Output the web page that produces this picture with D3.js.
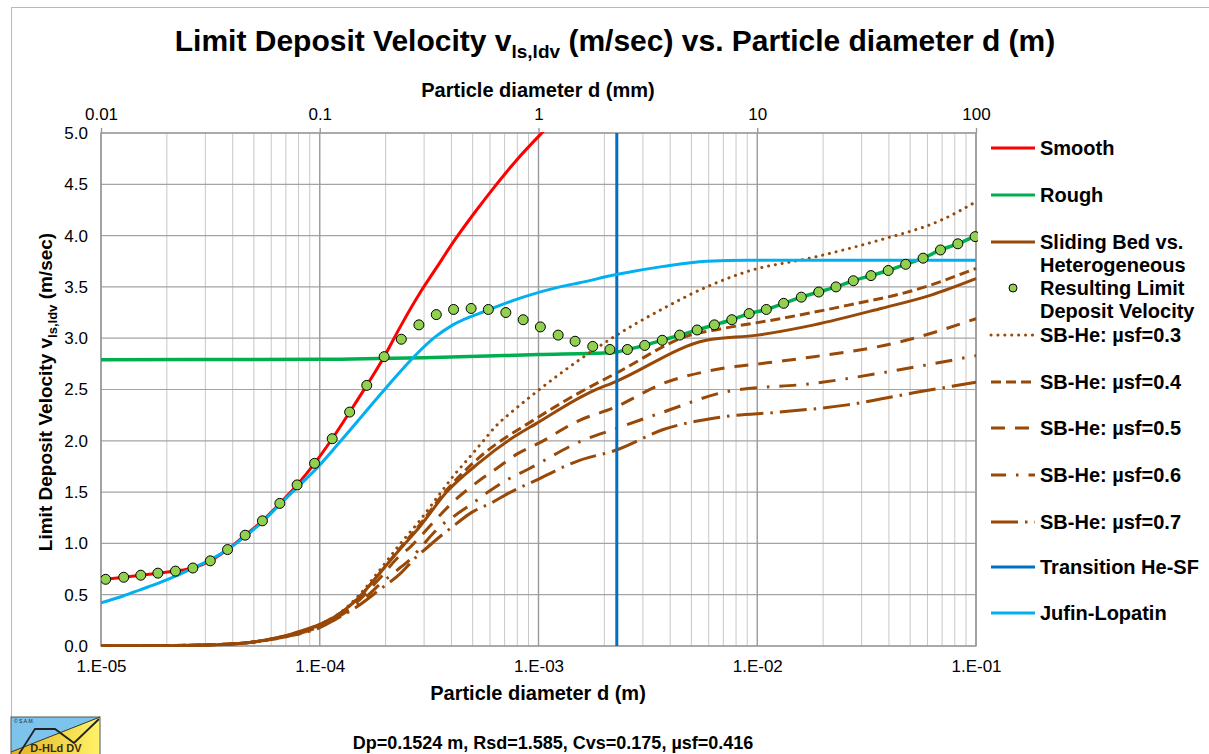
<!DOCTYPE html>
<html><head><meta charset="utf-8">
<script src="https://cdn.jsdelivr.net/npm/d3@7"></script>
<style>
html,body{margin:0;padding:0;background:#fff;}
svg{display:block;font-family:"Liberation Sans",Arial,sans-serif;}
</style></head>
<body><svg id="c" width="1209" height="754"></svg>
<script>
// ---------- DATA ----------
const xTickValues = [1e-5, 1e-4, 1e-3, 1e-2, 1e-1];
const xTickLabels = ["1.E-05", "1.E-04", "1.E-03", "1.E-02", "1.E-01"];
const xTopTickValues = [0.01, 0.1, 1, 10, 100];
const xTopTickLabels = ["0.01", "0.1", "1", "10", "100"];
const yTickValues = [0, 0.5, 1, 1.5, 2, 2.5, 3, 3.5, 4, 4.5, 5];

// Resulting Limit Deposit Velocity (markers)
const dotD = [1.05e-5,1.27e-5,1.52e-5,1.82e-5,2.19e-5,2.63e-5,3.16e-5,3.79e-5,4.56e-5,5.47e-5,6.57e-5,7.88e-5,9.47e-5,
  1.14e-4,1.37e-4,1.64e-4,1.97e-4,2.36e-4,2.84e-4,3.41e-4,4.09e-4,4.92e-4,5.90e-4,7.09e-4,8.51e-4,
  1.02e-3,1.23e-3,1.47e-3,1.77e-3,2.12e-3,2.55e-3,3.06e-3,3.68e-3,4.42e-3,5.31e-3,6.37e-3,7.65e-3,9.18e-3,
  1.10e-2,1.32e-2,1.59e-2,1.91e-2,2.29e-2,2.75e-2,3.31e-2,3.97e-2,4.77e-2,5.73e-2,6.88e-2,8.26e-2,9.91e-2];
const dotV = [0.65,0.67,0.69,0.71,0.73,0.76,0.83,0.94,1.08,1.22,1.39,1.57,1.78,
  2.02,2.28,2.54,2.82,2.99,3.13,3.23,3.28,3.29,3.28,3.25,3.18,
  3.11,3.03,2.97,2.92,2.89,2.89,2.93,2.98,3.03,3.08,3.13,3.18,3.24,
  3.28,3.34,3.40,3.45,3.50,3.56,3.61,3.66,3.72,3.78,3.86,3.92,3.99];

// Smooth
const smoothD = [1e-5,1.27e-5,1.52e-5,1.82e-5,2.19e-5,2.63e-5,3.16e-5,3.79e-5,4.56e-5,5.47e-5,6.57e-5,7.88e-5,9.47e-5,
  1.14e-4,1.37e-4,1.64e-4,1.97e-4,2.36e-4,2.87e-4,3.4e-4,4.15e-4,5.13e-4,6.32e-4,7.97e-4,1.035e-3,1.2e-3];
const smoothV = [0.645,0.67,0.69,0.71,0.73,0.76,0.83,0.94,1.08,1.22,1.39,1.57,1.78,
  2.02,2.28,2.54,2.82,3.13,3.44,3.68,3.96,4.23,4.48,4.74,5.0,5.14];

// Rough
const roughD = [1e-5,1e-4,3e-4,1e-3,2.2e-3,2.55e-3,3.06e-3,3.68e-3,4.42e-3,5.31e-3,6.37e-3,7.65e-3,9.18e-3,
  1.10e-2,1.32e-2,1.59e-2,1.91e-2,2.29e-2,2.75e-2,3.31e-2,3.97e-2,4.77e-2,5.73e-2,6.88e-2,8.26e-2,1e-1];
const roughV = [2.79,2.795,2.81,2.84,2.86,2.89,2.93,2.98,3.03,3.08,3.13,3.18,3.24,
  3.28,3.34,3.40,3.45,3.50,3.56,3.61,3.66,3.72,3.78,3.86,3.92,4.00];

// Sliding Bed vs. Heterogeneous
const sbheD = [1e-5,2e-5,3e-5,4e-5,5e-5,6e-5,7e-5,8e-5,1e-4,1.16e-4,1.52e-4,1.88e-4,2.32e-4,2.86e-4,3.8e-4,5.38e-4,7.38e-4,9.8e-4,
  1.71e-3,2.27e-3,5.85e-3,1.0e-2,1.82e-2,3.68e-2,6.23e-2,1e-1];
const sbheV = [0.0,0.003,0.01,0.02,0.04,0.07,0.10,0.14,0.21,0.28,0.48,0.71,0.94,1.16,1.50,1.79,2.01,2.17,
  2.47,2.58,2.98,3.03,3.13,3.29,3.42,3.58];

// SB-He: µsf = 0.3 ... 0.7
const mu03D = [1e-5,3e-5,5e-5,7e-5,1e-4,1.16e-4,1.52e-4,1.88e-4,2.32e-4,2.86e-4,3.53e-4,4.13e-4,4.84e-4,5.55e-4,6.43e-4,7.53e-4,8.82e-4,1.01e-3,
  1.54e-3,2.2e-3,3.72e-3,5.87e-3,9.0e-3,1.82e-2,3.68e-2,6.92e-2,1e-1];
const mu03V = [0.0,0.01,0.04,0.10,0.21,0.28,0.50,0.74,0.99,1.22,1.48,1.67,1.84,1.99,2.15,2.28,2.40,2.50,
  2.79,3.01,3.29,3.50,3.65,3.79,3.96,4.15,4.33];

const mu04D = [1e-5,3e-5,5e-5,7e-5,1e-4,1.16e-4,1.52e-4,1.88e-4,2.32e-4,2.86e-4,3.8e-4,5.38e-4,9.8e-4,1.54e-3,2.27e-3,4.94e-3,6.78e-3,1.27e-2,2.58e-2,5.26e-2,1e-1];
const mu04V = [0.0,0.01,0.04,0.10,0.21,0.28,0.48,0.71,0.95,1.18,1.52,1.84,2.22,2.47,2.66,3.03,3.09,3.19,3.32,3.47,3.68];

const mu05D = [1e-5,3e-5,5e-5,7e-5,1e-4,1.16e-4,1.52e-4,1.88e-4,2.32e-4,2.58e-4,2.86e-4,3.42e-4,4.05e-4,5.19e-4,6.43e-4,7.96e-4,1.01e-3,
  1.54e-3,2.2e-3,3.72e-3,6.3e-3,1.11e-2,1.82e-2,4.41e-2,1e-1];
const mu05V = [0.0,0.01,0.04,0.10,0.20,0.27,0.45,0.66,0.88,0.96,1.06,1.24,1.40,1.59,1.73,1.87,1.98,
  2.20,2.32,2.56,2.69,2.76,2.82,2.96,3.19];

const mu06D = [1e-5,3e-5,5e-5,7e-5,1e-4,1.16e-4,1.52e-4,1.88e-4,2.32e-4,2.58e-4,3.0e-4,3.53e-4,4.2e-4,4.84e-4,5.97e-4,7.2e-4,9.1e-4,
  1.54e-3,2.27e-3,3.72e-3,7.3e-3,1.82e-2,4.41e-2,1e-1];
const mu06V = [0.0,0.01,0.04,0.09,0.19,0.26,0.42,0.60,0.76,0.84,1.00,1.16,1.28,1.37,1.51,1.62,1.73,
  1.99,2.12,2.28,2.48,2.56,2.69,2.83];

const mu07D = [1e-5,3e-5,5e-5,7e-5,1e-4,1.16e-4,1.52e-4,1.88e-4,2.32e-4,2.77e-4,3.1e-4,3.47e-4,4.2e-4,4.93e-4,6.16e-4,7.3e-4,9.4e-4,
  1.54e-3,2.27e-3,3.72e-3,6.78e-3,1.27e-2,2.58e-2,5.26e-2,1e-1];
const mu07V = [0.0,0.01,0.04,0.09,0.18,0.25,0.40,0.55,0.70,0.87,0.96,1.05,1.19,1.30,1.40,1.49,1.60,
  1.81,1.91,2.11,2.23,2.28,2.35,2.47,2.57];

// Transition He-SF
const transitionD = 2.28e-3;

// Jufin-Lopatin
const jufinD = [1e-5,1.27e-5,1.52e-5,1.82e-5,2.19e-5,2.63e-5,3.16e-5,3.79e-5,4.56e-5,5.47e-5,6.57e-5,8.1e-5,9.47e-5,
  1.26e-4,1.98e-4,2.67e-4,3.36e-4,4.06e-4,5.82e-4,8.5e-4,1.25e-3,1.54e-3,2.27e-3,3.72e-3,5.87e-3,9.0e-3,1e-1];
const jufinV = [0.42,0.49,0.55,0.61,0.68,0.76,0.84,0.94,1.07,1.21,1.38,1.57,1.71,
  2.01,2.50,2.81,3.01,3.13,3.27,3.40,3.50,3.54,3.62,3.70,3.75,3.76,3.76];

const legendItems = ["Smooth","Rough","Sliding Bed vs.","Resulting Limit","SB-He: µsf=0.3","SB-He: µsf=0.4","SB-He: µsf=0.5","SB-He: µsf=0.6","SB-He: µsf=0.7","Transition He-SF","Jufin-Lopatin"];

// ---------- DRAWING ----------
const svg = d3.select("#c");
const X0 = 101, X1 = 976, YT = 133, YB = 646;
const x = d3.scaleLog().domain([1e-5, 1e-1]).range([X0, X1]);
const xTop = d3.scaleLog().domain([0.01, 100]).range([X0, X1]);
const y = d3.scaleLinear().domain([0, 5]).range([YB, YT]);

const BROWN = "#984807";

// outer chart border
svg.append("rect").attr("x", 11.5).attr("y", 7.5).attr("width", 1220).attr("height", 800)
  .attr("fill", "#fff").attr("stroke", "#b9b9b9").attr("stroke-width", 1);

// gridlines
const grid = svg.append("g");
const allTicks = x.ticks();
const isMajor = d => Math.abs(Math.log10(d) - Math.round(Math.log10(d))) < 1e-6;
grid.selectAll("line.minor").data(allTicks.filter(d => !isMajor(d))).join("line")
  .attr("x1", d => x(d)).attr("x2", d => x(d)).attr("y1", YT).attr("y2", YB)
  .attr("stroke", "#c8c8c8").attr("stroke-width", 1);
grid.selectAll("line.hz").data(yTickValues).join("line")
  .attr("x1", X0).attr("x2", X1).attr("y1", d => y(d)).attr("y2", d => y(d))
  .attr("stroke", "#a3a3a3").attr("stroke-width", 1.2);
grid.selectAll("line.major").data(xTickValues).join("line")
  .attr("x1", d => x(d)).attr("x2", d => x(d)).attr("y1", YT).attr("y2", YB)
  .attr("stroke", "#9a9a9a").attr("stroke-width", 1.4);
svg.append("rect").attr("x", X0).attr("y", YT).attr("width", X1 - X0).attr("height", YB - YT)
  .attr("fill", "none").attr("stroke", "#9a9a9a").attr("stroke-width", 1.4);

// axes
const axB = svg.append("g").attr("transform", `translate(0,${YB})`)
  .call(d3.axisBottom(x).tickValues(xTickValues).tickFormat((d, i) => xTickLabels[i]).tickSize(0).tickPadding(14));
const axT = svg.append("g").attr("transform", `translate(0,${YT})`)
  .call(d3.axisTop(xTop).tickValues(xTopTickValues).tickFormat((d, i) => xTopTickLabels[i]).tickSize(5).tickPadding(8));
const axL = svg.append("g").attr("transform", `translate(${X0},0)`)
  .call(d3.axisLeft(y).tickValues(yTickValues).tickFormat(d3.format(".1f")).tickSize(0).tickPadding(13));
[axB, axT, axL].forEach(a => {
  a.select(".domain").remove();
  a.selectAll("text").attr("font-size", 17).attr("fill", "#000").attr("font-family", '"Liberation Sans",Arial,sans-serif');
  a.selectAll("line").attr("stroke", "#9a9a9a").attr("stroke-width", 1.4);
});

// clip
svg.append("clipPath").attr("id", "plotclip").append("rect")
  .attr("x", X0).attr("y", YT - 1).attr("width", X1 - X0 + 2).attr("height", YB - YT + 2);
const plot = svg.append("g").attr("clip-path", "url(#plotclip)");

const line = d3.line().x(d => x(d[0])).y(d => y(d[1])).curve(d3.curveMonotoneX);
const zip = (a, b) => a.map((d, i) => [d, b[i]]);

const series = [
  {d: smoothD, v: smoothV, color: "#ff0000", w: 3, dash: null},
  {d: roughD, v: roughV, color: "#00b050", w: 3.5, dash: null},
  {d: sbheD, v: sbheV, color: BROWN, w: 3, dash: null},
  {d: mu03D, v: mu03V, color: BROWN, w: 3, dash: "0.1 6.8", cap: "round"},
  {d: mu04D, v: mu04V, color: BROWN, w: 3, dash: "10 5"},
  {d: mu05D, v: mu05V, color: BROWN, w: 3, dash: "14 10"},
  {d: mu06D, v: mu06V, color: BROWN, w: 3, dash: "17 10 2.5 10"},
  {d: mu07D, v: mu07V, color: BROWN, w: 3, dash: "27 7 2.5 7"},
];
series.forEach(s => {
  plot.append("path").attr("d", line(zip(s.d, s.v))).attr("fill", "none")
    .attr("stroke", s.color).attr("stroke-width", s.w)
    .attr("stroke-dasharray", s.dash).attr("stroke-linecap", s.cap || "butt")
    .attr("stroke-linejoin", "round");
});
// transition line
plot.append("line").attr("x1", x(transitionD)).attr("x2", x(transitionD)).attr("y1", YT).attr("y2", YB)
  .attr("stroke", "#0070c0").attr("stroke-width", 3);
// Jufin-Lopatin
plot.append("path").attr("d", line(zip(jufinD, jufinV))).attr("fill", "none")
  .attr("stroke", "#00b0f0").attr("stroke-width", 3);
// markers
plot.selectAll("circle.dot").data(zip(dotD, dotV)).join("circle")
  .attr("cx", d => x(d[0])).attr("cy", d => y(d[1])).attr("r", 5)
  .attr("fill", "#92d050").attr("stroke", "#000").attr("stroke-width", 1);

// titles
const title = svg.append("text").attr("x", 615).attr("y", 51).attr("text-anchor", "middle")
  .attr("font-size", 30).attr("font-weight", "bold");
title.append("tspan").text("Limit Deposit Velocity v");
title.append("tspan").attr("font-size", 19).attr("dy", 7).text("ls,ldv");
title.append("tspan").attr("dy", -7).text(" (m/sec) vs. Particle diameter d (m)");

svg.append("text").attr("x", 538).attr("y", 97).attr("text-anchor", "middle")
  .attr("font-size", 20).attr("font-weight", "bold").text("Particle diameter d (mm)");
svg.append("text").attr("x", 538).attr("y", 700).attr("text-anchor", "middle")
  .attr("font-size", 20).attr("font-weight", "bold").text("Particle diameter d (m)");
const yl = svg.append("text").attr("transform", "translate(52,392) rotate(-90)").attr("text-anchor", "middle")
  .attr("font-size", 19).attr("font-weight", "bold");
yl.append("tspan").text("Limit Deposit Velocity v");
yl.append("tspan").attr("font-size", 13).attr("dy", 5).text("ls,ldv");
yl.append("tspan").attr("dy", -5).text(" (m/sec)");

svg.append("text").attr("x", 553).attr("y", 749).attr("text-anchor", "middle")
  .attr("font-size", 18).attr("font-weight", "bold").text("Dp=0.1524 m, Rsd=1.585, Cvs=0.175, µsf=0.416");

// legend
const LX0 = 991, LX1 = 1035, LT = 1040;
const lg = svg.append("g").attr("font-size", 20).attr("font-weight", "bold");
const legRows = [
  {y: 148, color: "#ff0000", dash: null, lines: [legendItems[0]]},
  {y: 195, color: "#00b050", dash: null, lines: [legendItems[1]]},
  {y: 242, color: BROWN, dash: null, lines: [legendItems[2], "Heterogeneous"]},
  {y: 288, marker: true, lines: [legendItems[3], "Deposit Velocity"]},
  {y: 335, color: BROWN, dash: "0.1 6.8", cap: "round", lines: [legendItems[4]]},
  {y: 382, color: BROWN, dash: "10 5", lines: [legendItems[5]]},
  {y: 428, color: BROWN, dash: "14 10", lines: [legendItems[6]]},
  {y: 475, color: BROWN, dash: "15 10 2.5 10", lines: [legendItems[7]]},
  {y: 522, color: BROWN, dash: "27 7 2.5 7", lines: [legendItems[8]]},
  {y: 567, color: "#0070c0", dash: null, lines: [legendItems[9]]},
  {y: 613, color: "#00b0f0", dash: null, lines: [legendItems[10]]},
];
legRows.forEach(r => {
  if (r.marker) {
    lg.append("circle").attr("cx", (LX0 + LX1) / 2).attr("cy", r.y).attr("r", 4)
      .attr("fill", "#92d050").attr("stroke", "#000").attr("stroke-width", 1);
  } else {
    lg.append("line").attr("x1", LX0).attr("x2", LX1).attr("y1", r.y).attr("y2", r.y)
      .attr("stroke", r.color).attr("stroke-width", 3).attr("stroke-dasharray", r.dash)
      .attr("stroke-linecap", r.cap || "butt");
  }
  r.lines.forEach((t, i) => {
    lg.append("text").attr("x", LT).attr("y", r.y + 7 + i * 23).text(t);
  });
});

// logo (decoration)
const logo = svg.append("g");
const defs = svg.append("defs");
const gr = defs.append("linearGradient").attr("id", "yel").attr("x1", "0").attr("x2", "1");
gr.append("stop").attr("offset", "0").attr("stop-color", "#e2b21e");
gr.append("stop").attr("offset", "1").attr("stop-color", "#fff36a");
logo.append("rect").attr("x", 11).attr("y", 717).attr("width", 89).attr("height", 45).attr("fill", "url(#yel)");
logo.append("polygon").attr("points", "11,717 100,717 11,752").attr("fill", "#7cc4ec");
logo.append("line").attr("x1", 11).attr("y1", 752).attr("x2", 100).attr("y2", 717).attr("stroke", "#333").attr("stroke-width", 1);
logo.append("polyline").attr("points", "19,754 35,729 55,729 74,743 99,719").attr("fill", "none").attr("stroke", "#222").attr("stroke-width", 1.8);
logo.append("rect").attr("x", 11).attr("y", 717).attr("width", 89).attr("height", 45).attr("fill", "none").attr("stroke", "#555").attr("stroke-width", 1);
logo.append("text").attr("x", 14).attr("y", 723).attr("font-size", 5).attr("fill", "#222").text("© S.A.M.");
logo.append("text").attr("x", 56).attr("y", 752).attr("text-anchor", "middle").attr("font-size", 11)
  .attr("font-weight", "bold").attr("fill", "#3a2a10").text("D-HLd DV");
</script></body></html>
